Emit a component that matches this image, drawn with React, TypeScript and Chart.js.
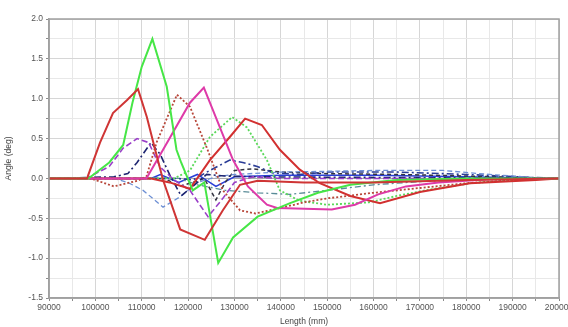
import React, { useEffect, useRef } from "react";
import { Chart, registerables } from "chart.js";

Chart.register(...registerables);

// ---- Data (Length in mm, Angle in deg) ----
const redSolid1X = [90000, 98200, 101000, 103800, 106800, 109200, 111100, 112900, 114600, 118300, 123600, 127500, 131200, 135000, 145000, 160000, 180000, 200000];
const redSolid1Y = [0, 0, 0.45, 0.82, 0.98, 1.12, 0.77, 0.36, -0.02, -0.64, -0.77, -0.4, -0.08, -0.03, -0.05, -0.05, -0.02, 0];

const greenSolidX = [90000, 98500, 103000, 106000, 108000, 110000, 112300, 115400, 117500, 118500, 121000, 123500, 126500, 129700, 135000, 142000, 148000, 155000, 165000, 180000, 200000];
const greenSolidY = [0, 0, 0.2, 0.42, 0.95, 1.4, 1.75, 1.15, 0.36, 0.2, -0.15, -0.05, -1.06, -0.74, -0.48, -0.31, -0.18, -0.08, -0.02, 0, 0];

const redDottedX = [90000, 99000, 104000, 109000, 111000, 113200, 117600, 120400, 124000, 127500, 131200, 134500, 140000, 145000, 150000, 160000, 170000, 180000, 190000, 200000];
const redDottedY = [0, 0, -0.1, -0.03, 0.02, 0.45, 1.05, 0.9, 0.39, -0.15, -0.4, -0.44, -0.37, -0.3, -0.25, -0.18, -0.12, -0.06, -0.02, 0];

const magentaSolidX = [90000, 111000, 114600, 120400, 123400, 129700, 132900, 137000, 139200, 151000, 156000, 161000, 167000, 174000, 185000, 200000];
const magentaSolidY = [0, 0, 0.36, 0.95, 1.14, 0.23, -0.1, -0.33, -0.37, -0.39, -0.33, -0.2, -0.1, -0.05, -0.01, 0];

const greenDottedX = [90000, 117000, 120400, 124700, 129500, 132700, 137000, 139800, 144000, 150000, 159000, 165000, 172000, 181000, 190000, 200000];
const greenDottedY = [0, 0, 0.1, 0.52, 0.77, 0.64, 0.23, -0.15, -0.28, -0.33, -0.3, -0.22, -0.14, -0.06, -0.02, 0];

const redSolid2X = [90000, 112000, 116000, 120400, 124700, 129000, 132300, 135900, 139800, 144100, 148400, 155000, 161400, 170000, 180800, 195000, 200000];
const redSolid2Y = [0, 0, -0.05, -0.13, 0.23, 0.52, 0.75, 0.67, 0.36, 0.11, -0.06, -0.22, -0.31, -0.17, -0.06, -0.02, 0];

const purpleDashedX = [90000, 98000, 103000, 106000, 109000, 111500, 114000, 117000, 120400, 124300, 127500, 130000, 134000, 140000, 200000];
const purpleDashedY = [0, 0, 0.15, 0.38, 0.5, 0.45, 0.14, -0.02, -0.15, -0.48, -0.25, -0.05, 0.02, 0, 0];

const navyDashDot1X = [90000, 104000, 107000, 109000, 112000, 114000, 116000, 118500, 121000, 124000, 128000, 135000, 200000];
const navyDashDot1Y = [0, 0.02, 0.06, 0.2, 0.45, 0.3, 0.05, -0.22, -0.1, 0.05, 0.03, 0.02, 0];

const lightBlueDashedX = [90000, 104000, 107000, 110300, 114600, 118300, 122000, 126000, 130000, 140000, 160000, 175000, 185000, 195000, 200000];
const lightBlueDashedY = [0, 0, -0.05, -0.15, -0.36, -0.23, -0.05, 0.02, 0.05, 0.08, 0.1, 0.1, 0.05, 0.01, 0];

const navyDashDot2X = [90000, 118000, 121000, 124700, 129000, 131800, 134900, 138300, 144000, 150000, 165000, 180000, 195000, 200000];
const navyDashDot2Y = [0, 0, -0.02, 0.1, 0.23, 0.2, 0.15, 0.07, 0.05, 0.08, 0.08, 0.05, 0.01, 0];

const blackDashedX = [90000, 115000, 118000, 121000, 123500, 126000, 128000, 130000, 134000, 140000, 150000, 165000, 180000, 200000];
const blackDashedY = [0, 0, -0.1, -0.05, 0, -0.27, -0.05, 0.1, 0.12, 0.08, 0.06, 0.05, 0.03, 0];

const tealDashDotX = [90000, 118000, 122000, 128000, 135000, 142000, 150000, 160000, 170000, 185000, 200000];
const tealDashDotY = [0, 0, -0.08, -0.15, -0.18, -0.2, -0.15, -0.08, -0.04, -0.01, 0];

const blueSolidX = [90000, 112000, 114000, 118000, 122000, 126000, 130000, 140000, 160000, 180000, 200000];
const blueSolidY = [0, 0, 0.05, -0.05, 0.05, -0.1, 0.02, 0.04, 0.04, 0.02, 0];

const X_MIN = 90000;
const X_MAX = 200000;
const Y_MIN = -1.5;
const Y_MAX = 2.0;

const FONT = "'Liberation Sans', Arial, sans-serif";

function zip(xs: number[], ys: number[]) {
  return xs.map((x, i) => ({ x, y: ys[i] }));
}

const framePlugin = {
  id: "frame",
  beforeDatasetsDraw(chart: any) {
    const { ctx, chartArea, scales } = chart;
    const y0 = scales.y.getPixelForValue(0);
    ctx.save();
    ctx.strokeStyle = "#a8a8a8";
    ctx.lineWidth = 1;
    ctx.beginPath();
    ctx.moveTo(chartArea.left, y0);
    ctx.lineTo(chartArea.right, y0);
    ctx.stroke();
    ctx.restore();
  },
  afterDraw(chart: any) {
    const { ctx, chartArea } = chart;
    ctx.save();
    ctx.strokeStyle = "#a0a0a0";
    ctx.lineWidth = 1.5;
    ctx.strokeRect(chartArea.left, chartArea.top, chartArea.right - chartArea.left, chartArea.bottom - chartArea.top);
    ctx.restore();
  },
};

export default function App() {
  const ref = useRef<HTMLCanvasElement>(null);

  useEffect(() => {
    if (!ref.current) return;
    const ds = (label: string, xs: number[], ys: number[], color: string, width: number, dash: number[] = []) => ({
      label,
      data: zip(xs, ys),
      borderColor: color,
      backgroundColor: color,
      borderWidth: width,
      borderDash: dash,
      pointRadius: 0,
      fill: false,
      tension: 0,
    });

    const chart = new Chart(ref.current, {
      type: "line",
      data: {
        datasets: [
          ds("Red 1", redSolid1X, redSolid1Y, "#cf3535", 2),
          ds("Green", greenSolidX, greenSolidY, "#46e646", 2),
          ds("Magenta", magentaSolidX, magentaSolidY, "#de3aa8", 2),
          ds("Red 2", redSolid2X, redSolid2Y, "#d23030", 2),
          ds("Red dotted", redDottedX, redDottedY, "#b8473a", 1.8, [2, 2]),
          ds("Green dotted", greenDottedX, greenDottedY, "#5ad85a", 1.8, [2, 2]),
          ds("Purple dashed", purpleDashedX, purpleDashedY, "#9a3fc8", 1.6, [6, 3]),
          ds("Navy dash-dot 1", navyDashDot1X, navyDashDot1Y, "#1d2470", 1.6, [7, 3, 2, 3]),
          ds("Light blue dashed", lightBlueDashedX, lightBlueDashedY, "#6d8fd4", 1.3, [5, 3]),
          ds("Navy dash-dot 2", navyDashDot2X, navyDashDot2Y, "#2a3c96", 1.6, [7, 3, 2, 3]),
          ds("Black dashed", blackDashedX, blackDashedY, "#333340", 1.5, [4, 3]),
          ds("Teal dash-dot", tealDashDotX, tealDashDotY, "#5a8c98", 1.3, [6, 3, 2, 3]),
          ds("Blue", blueSolidX, blueSolidY, "#2a3fd8", 1.5),
        ],
      },
      options: {
        animation: false,
        responsive: false,
        maintainAspectRatio: false,
        layout: { padding: { left: 0, right: 9, top: 19, bottom: 0 } },
        plugins: {
          legend: { display: false },
          tooltip: { enabled: false },
        },
        elements: { point: { radius: 0 } },
        scales: {
          x: {
            type: "linear",
            min: X_MIN,
            max: X_MAX,
            afterFit: (s: any) => {
              s.paddingRight = 0;
              s.paddingLeft = 0;
              s.height = 29;
            },
            ticks: {
              stepSize: 5000,
              autoSkip: false,
              maxRotation: 0,
              minRotation: 0,
              padding: 2,
              color: "#555",
              font: { family: FONT, size: 8.5 },
              callback: (v: any) => (Number(v) % 10000 === 0 ? String(v) : ""),
            },
            grid: {
              color: (c: any) => (c.tick && c.tick.value % 10000 === 0 ? "#d6d6d6" : "#e8e8e8"),
              lineWidth: 1,
              tickLength: 3,
              tickColor: "#8a8a8a",
            },
            border: { color: "#a0a0a0", width: 1.5 },
            title: {
              display: true,
              text: "Length (mm)",
              color: "#444",
              font: { family: FONT, size: 8.5 },
              padding: { top: 2, bottom: 0 },
            },
          },
          y: {
            type: "linear",
            min: Y_MIN,
            max: Y_MAX,
            afterFit: (s: any) => {
              s.width = 49;
              s.paddingTop = 0;
              s.paddingBottom = 0;
            },
            ticks: {
              stepSize: 0.25,
              autoSkip: false,
              padding: 3,
              color: "#555",
              font: { family: FONT, size: 8.5 },
              callback: (v: any) => {
                const n = Number(v);
                return Math.abs(n * 2 - Math.round(n * 2)) < 1e-9 ? n.toFixed(1) : "";
              },
            },
            grid: {
              color: (c: any) => {
                const n = c.tick ? c.tick.value : 0;
                return Math.abs(n * 2 - Math.round(n * 2)) < 1e-9 ? "#d6d6d6" : "#e8e8e8";
              },
              lineWidth: 1,
              tickLength: 3,
              tickColor: "#8a8a8a",
            },
            border: { color: "#a0a0a0", width: 1.5 },
            title: {
              display: true,
              text: "Angle (deg)",
              color: "#444",
              font: { family: FONT, size: 8.5 },
              padding: { top: 4, bottom: 0 },
            },
          },
        },
      },
      plugins: [framePlugin],
    } as any);

    return () => chart.destroy();
  }, []);

  return (
    <div style={{ position: "fixed", left: 0, top: 0, width: 568, height: 327, background: "#fff", overflow: "hidden" }}>
      <canvas ref={ref} width={568} height={327} style={{ display: "block" }} />
    </div>
  );
}
